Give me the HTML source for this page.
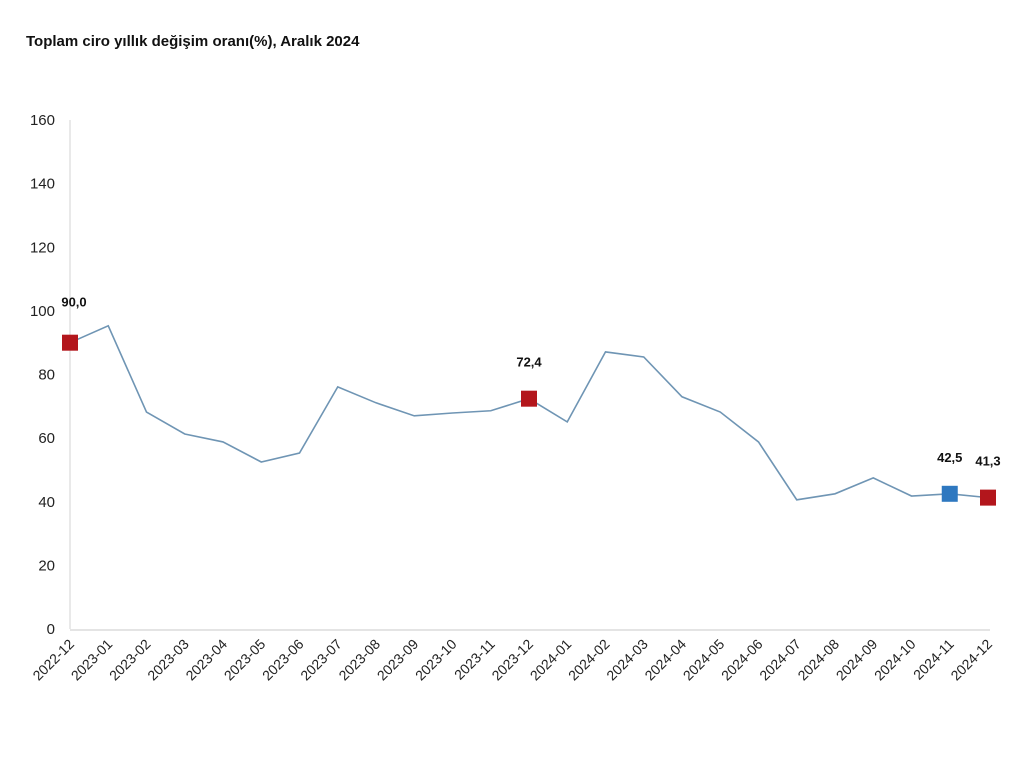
<!DOCTYPE html>
<html><head><meta charset="utf-8"><style>
body{margin:0;background:#fff;width:1024px;height:768px;overflow:hidden;font-family:"Liberation Sans",sans-serif}
</style></head><body>
<svg width="1024" height="768">
<text x="26" y="46" font-size="15" font-weight="bold" fill="#111">Toplam ciro yıllık değişim oranı(%), Aralık 2024</text>
<g id="axes"></g>
<g id="plot"></g>
</svg>
<script>
const categories=["2022-12","2023-01","2023-02","2023-03","2023-04","2023-05","2023-06","2023-07","2023-08","2023-09","2023-10","2023-11","2023-12","2024-01","2024-02","2024-03","2024-04","2024-05","2024-06","2024-07","2024-08","2024-09","2024-10","2024-11","2024-12"];
const values=[90.0,95.3,68.2,61.3,58.8,52.5,55.3,76.1,71.1,67.0,67.9,68.6,72.4,65.1,87.1,85.5,73.0,68.2,58.8,40.6,42.5,47.5,41.8,42.5,41.3];
const yTicks=[0,20,40,60,80,100,120,140,160];
const markedIdx=[0,12,23,24];
const markedLabels=["90,0","72,4","42,5","41,3"];
const NS="http://www.w3.org/2000/svg";
const x=i=>70+i*(988-70)/(categories.length-1);
const y=v=>629-v*(509/160);
function mk(t,a,p){const e=document.createElementNS(NS,t);for(const k in a)e.setAttribute(k,a[k]);p.appendChild(e);return e;}
const ax=document.getElementById('axes'),pl=document.getElementById('plot');
const yl=mk('line',{x1:70,x2:70,y1:y(160),y2:y(0),stroke:'#e2e2e2','stroke-width':1.5},ax);


const xl=mk('line',{x1:70,x2:990,y1:y(0)+1,y2:y(0)+1,stroke:'#dcdcdc','stroke-width':1.5},ax);


yTicks.forEach(v=>{const t=mk('text',{x:55,y:y(v)+5,'text-anchor':'end','font-size':15,fill:'#222'},ax);t.textContent=v;

});
categories.forEach((c,i)=>{const t=mk('text',{x:x(i)+5,y:645,'text-anchor':'end','font-size':14,fill:'#222',transform:`rotate(-45 ${x(i)+5} 645)`},ax);t.textContent=c;

});
const line=mk('polyline',{points:values.map((v,i)=>x(i)+','+y(v)).join(' '),fill:'none',stroke:'#6f95b4','stroke-width':1.6},pl);


markedIdx.forEach((i,k)=>{const r=mk('rect',{x:x(i)-8,y:y(values[i])-8,width:16,height:16,fill:i===23?'#2e78c0':'#b3161c'},pl);


const dx=i===0?4:0;
const t=mk('text',{x:x(i)+dx,y:y(values[i])-(i===0?36:32),'text-anchor':'middle','font-size':13,'font-weight':'bold',fill:'#111'},pl);t.textContent=markedLabels[k];

});
</script>
</body></html>
